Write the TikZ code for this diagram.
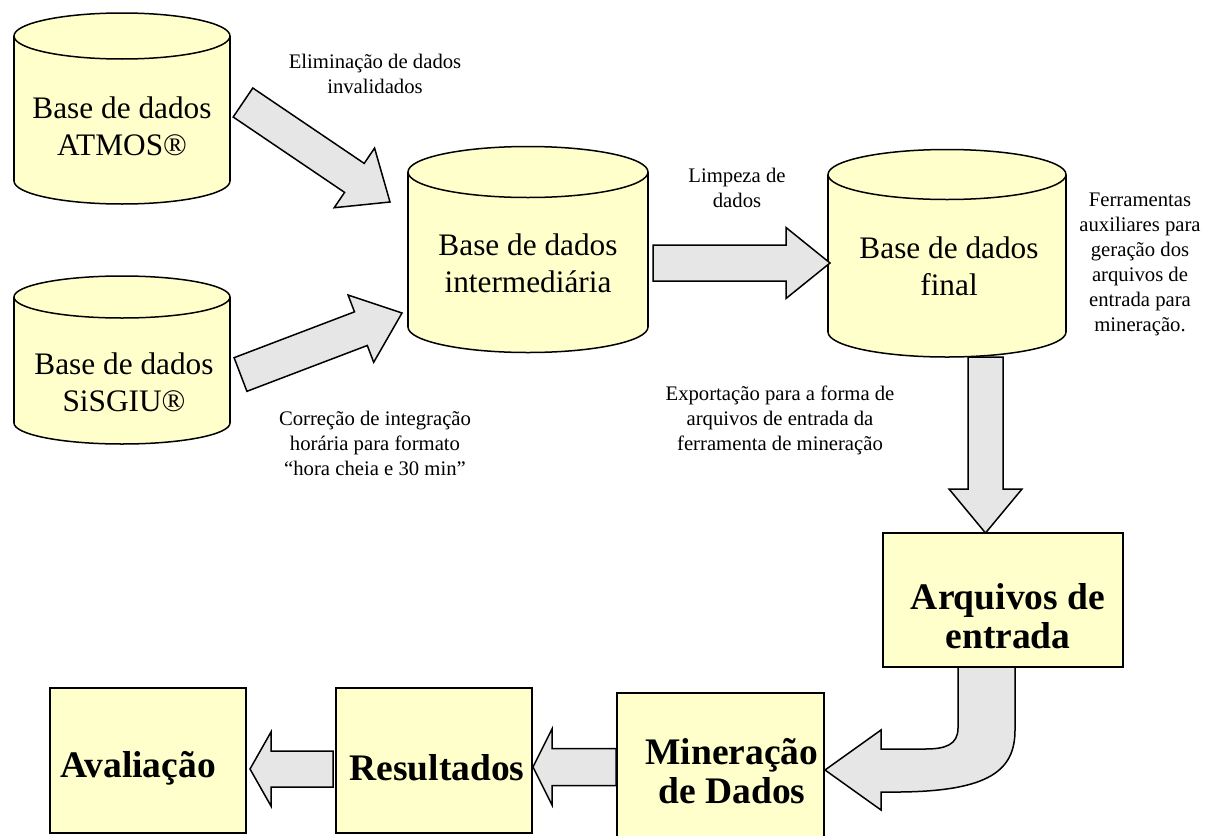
\documentclass[tikz,border=0pt]{standalone}
\usepackage{fontspec}
\setmainfont{Liberation Serif}
\usetikzlibrary{calc,backgrounds}
\definecolor{dbyellow}{RGB}{255,255,204}
\definecolor{arrowgray}{RGB}{230,230,230}
% cylinder round a body node: node, x radius, y radius
\newcommand{\dbcyl}[3]{%
  \path[dbline] (#1.south) ellipse [x radius=#2, y radius=#3];
  \fill[dbyellow] (#1.north west) rectangle (#1.south east);
  \draw[line width=1.5pt] (#1.north west) -- (#1.south west) (#1.north east) -- (#1.south east);
  \path[dbline] (#1.north) ellipse [x radius=#2, y radius=#3];}
% block arrow: tail, tip, half shaft, half head, head length
\newcommand{\blockarrow}[5]{%
  \coordinate (ba) at ($(#2)!#5!(#1)$);
  \draw[blockarrow] ($(#1)!#3!90:(#2)$) -- ($(ba)!#3!90:(#2)$) -- ($(ba)!#4!90:(#2)$)
    -- (#2) -- ($(ba)!#4!-90:(#2)$) -- ($(ba)!#3!-90:(#2)$) -- ($(#1)!#3!-90:(#2)$) -- cycle;}
\begin{document}
\begin{tikzpicture}[x=1pt, y=-1pt,
    dbline/.style={draw=black, fill=dbyellow, line width=1.5pt},
    db/.style={inner sep=0pt, outer sep=0pt},
    dbtext/.style={align=center, font=\fontsize{31.3}{37}\selectfont},
    box/.style={draw=black, fill=dbyellow, line width=1.5pt, inner sep=0pt, outer sep=0pt},
    boxtext/.style={align=center, font=\fontsize{37.5}{39}\selectfont\bfseries},
    note/.style={align=center, font=\fontsize{20.7}{25}\selectfont},
    blockarrow/.style={draw=black, fill=arrowgray, line width=1.5pt, line join=miter}]
  \useasboundingbox (0,0) rectangle (1214,835);

  % databases
  \node[db, minimum width=216, minimum height=145,
    label={[dbtext, yshift=-17.5pt]center:{Base de dados\\ATMOS®}}] (atmos) at (122,108.5) {};
  \node[db, minimum width=216, minimum height=126,
    label={[dbtext, xshift=2pt, yshift=-22.5pt]center:{Base de dados\\SiSGIU®}}] (sisgiu) at (122,360) {};
  \node[db, minimum width=240, minimum height=155,
    label={[dbtext, yshift=-14pt]center:{Base de dados\\intermediária}}] (inter) at (528,249.5) {};
  \node[db, minimum width=238, minimum height=157.5,
    label={[dbtext, xshift=2pt, yshift=-13pt]center:{Base de dados\\final}}] (final) at (947,253.25) {};
  \begin{scope}[on background layer]
    \dbcyl{atmos}{108pt}{23pt}
    \dbcyl{sisgiu}{108pt}{21pt}
    \dbcyl{inter}{120pt}{25.5pt}
    \dbcyl{final}{119pt}{25pt}
  \end{scope}

  % boxes
  \node[box, minimum width=240, minimum height=134,
    label={[boxtext, xshift=5pt, yshift=-16pt]center:{Arquivos de\\entrada}}] (arq) at (1003,600) {};
  \node[box, minimum width=207, minimum height=160] (miner) at (720.5,773) {};
  \begin{scope}
    \clip (617,693) rectangle (824,803);
    \node[boxtext] (minertxt) at (732,771.5) {Mineração\\de Dados};
  \end{scope}
  \node[box, minimum width=196, minimum height=145,
    label={[boxtext, xshift=3pt, yshift=-7.5pt]center:Resultados}] (result) at (434,760.5) {};
  \node[box, minimum width=196, minimum height=145,
    label={[boxtext, xshift=-10pt, yshift=-7.5pt]center:Avaliação}] (aval) at (148,760.5) {};

  % notes
  \node[note] (elim) at (375,74) {Eliminação de dados\\invalidados};
  \node[note] (corr) at (375,443) {Correção de integração\\horária para formato\\“hora cheia e 30 min”};
  \node[note] (limp) at (737,187.5) {Limpeza de\\dados};
  \node[note] (ferr) at (1140,264.5) {Ferramentas\\auxiliares para\\geração dos\\arquivos de\\entrada para\\mineração.};
  \node[note] (expo) at (780,420) {Exportação para a forma de\\arquivos de entrada da\\ferramenta de mineração};

  % arrows
  \coordinate (a1t) at (243,102.5);  \coordinate (a1h) at (390,202);
  \coordinate (a2t) at (240.5,374.5); \coordinate (a2h) at (402,313);
  \coordinate (a3t) at (653,263);    \coordinate (a3h) at (830,263);
  \coordinate (a4t) at (985.5,357);  \coordinate (a4h) at (985.5,533);
  \coordinate (a6t) at (616,767);    \coordinate (a6h) at (533,767);
  \coordinate (a7t) at (333,769);    \coordinate (a7h) at (250,769);
  \blockarrow{a1t}{a1h}{17.5pt}{36pt}{43pt}
  \blockarrow{a2t}{a2h}{18pt}{36pt}{44pt}
  \blockarrow{a3t}{a3h}{18pt}{35.5pt}{44pt}
  \blockarrow{a4t}{a4h}{17.5pt}{36.5pt}{44pt}
  \blockarrow{a6t}{a6h}{18.5pt}{38pt}{19pt}
  \blockarrow{a7t}{a7h}{18pt}{37pt}{21pt}
  \draw[blockarrow] ($(arq.south west)+(75,0)$) -- (958,728) .. controls (958,745) and (945,749) .. (925,749)
    -- (881,749) -- (881,730) -- (825,770) -- (881,810) -- (881,792) -- (900,792)
    .. controls (990,791) and (1015,770) .. (1015,730) -- ($(arq.south west)+(132,0)$) -- cycle;
\end{tikzpicture}
\end{document}
